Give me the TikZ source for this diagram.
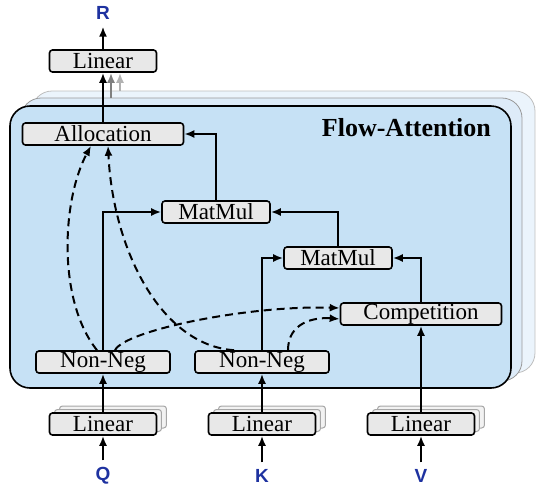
\documentclass[tikz,border=0pt]{standalone}
\usepackage{fontspec}
\setmainfont{Liberation Serif}
\newfontfamily\lblfont{Liberation Sans}
\usetikzlibrary{arrows.meta}
\definecolor{flowfront}{RGB}{198,225,245}
\definecolor{flowmid}{RGB}{221,235,248}
\definecolor{flowback}{RGB}{235,244,252}
\definecolor{boxgray}{RGB}{232,232,232}
\definecolor{lblblue}{RGB}{30,50,160}

\begin{document}
\begin{tikzpicture}[x=0.5pt,y=-0.5pt,
  every node/.style={font=\fontsize{11.5}{12}\selectfont},
  op/.style={draw=black,fill=boxgray,rounded corners=1.5pt,line width=0.8pt,minimum height=11pt,inner sep=0pt},
  opback/.style={op,draw=gray!70,fill=gray!10,line width=0.5pt},
  lbl/.style={text=lblblue,font=\lblfont\bfseries\fontsize{9.5}{11}\selectfont},
  flow/.style={-{Latex[length=5pt,width=4pt]},line width=1pt},
  hint/.style={flow,dashed,dash pattern=on 4pt off 2.5pt}]
  \useasboundingbox (0,0) rectangle (538,484);

  % Capas del bloque
  \draw[gray!50,fill=flowback,rounded corners=10pt] (32,91) rectangle (535,373);
  \draw[gray!80,fill=flowmid,rounded corners=10pt] (21,98) rectangle (522,381);
  \draw[black,fill=flowfront,rounded corners=10pt,line width=0.8pt] (10,106) rectangle (511,388);
  \node[anchor=east,font=\bfseries\fontsize{13}{14}\selectfont] (title) at (498,128) {Flow-Attention};

  % Entradas
  \foreach \x/\n in {103/q,262/k,421/v} {
    \node[opback,minimum width=53.5pt] (\n b2) at (\x+10,417) {};
    \node[opback,minimum width=53.5pt] (\n b1) at (\x+5,420.5) {};
  }
  \node[op,minimum width=53.5pt] (linq) at (103,424) {Linear};
  \node[op,minimum width=53.5pt] (link) at (262,424) {Linear};
  \node[op,minimum width=53.5pt] (linv) at (421,424) {Linear};
  \node[lbl] (q) at (103,476) {Q};
  \node[lbl] (k) at (262,476) {K};
  \node[lbl] (v) at (421,476) {V};

  % Operaciones
  \node[op,minimum width=67pt] (nn1) at (103,362) {Non-Neg};
  \node[op,minimum width=67pt] (nn2) at (262,362) {Non-Neg};
  \node[op,minimum width=80.5pt] (comp) at (421,314) {Competition};
  \node[op,minimum width=54pt] (mm2) at (338,258) {MatMul};
  \node[op,minimum width=54pt] (mm1) at (216,212) {MatMul};
  \node[op,minimum width=80.5pt] (alloc) at (103,134) {Allocation};

  % Salida
  \node[op,minimum width=53.5pt] (linr) at (103,61) {Linear};
  \node[lbl] (r) at (103,13) {R};
  \coordinate (g1) at (111,98);
  \coordinate (g2) at (120,91);

  % Flechas
  \foreach \from/\to in {q/linq, k/link, v/linv, linq/nn1, link/nn2, linv/comp, alloc/linr, linr/r}
    \draw[flow] (\from) -- (\to);
  \draw[flow] (nn1.north) |- (mm1.west);
  \draw[flow] (nn2.north) |- (mm2.west);
  \draw[flow] (comp.north) |- (mm2.east);
  \draw[flow] (mm2.north) |- (mm1.east);
  \draw[flow] (mm1.north) |- (alloc.east);
  \draw[flow,gray] (g1) -- (g1 |- linr.south);
  \draw[flow,gray!60] (g2) -- (g2 |- linr.south);

  % Flechas punteadas
  \draw[hint] ([xshift=-3pt]nn1.north) .. controls +(-40,-50) and +(-29,54) .. ([xshift=-6pt]alloc.south);
  \draw[hint] ([xshift=-14pt]nn2.north) .. controls +(-73,-5) and +(5,104) .. ([xshift=2.5pt]alloc.south);
  \draw[hint] ([xshift=6pt]nn1.north) .. controls +(10,-20) and +(-90,-3) .. ([yshift=3pt]comp.west);
  \draw[hint] ([xshift=13pt]nn2.north) .. controls +(0,-28) and +(-25,-2) .. ([yshift=-2.5pt]comp.west);
\end{tikzpicture}
\end{document}
